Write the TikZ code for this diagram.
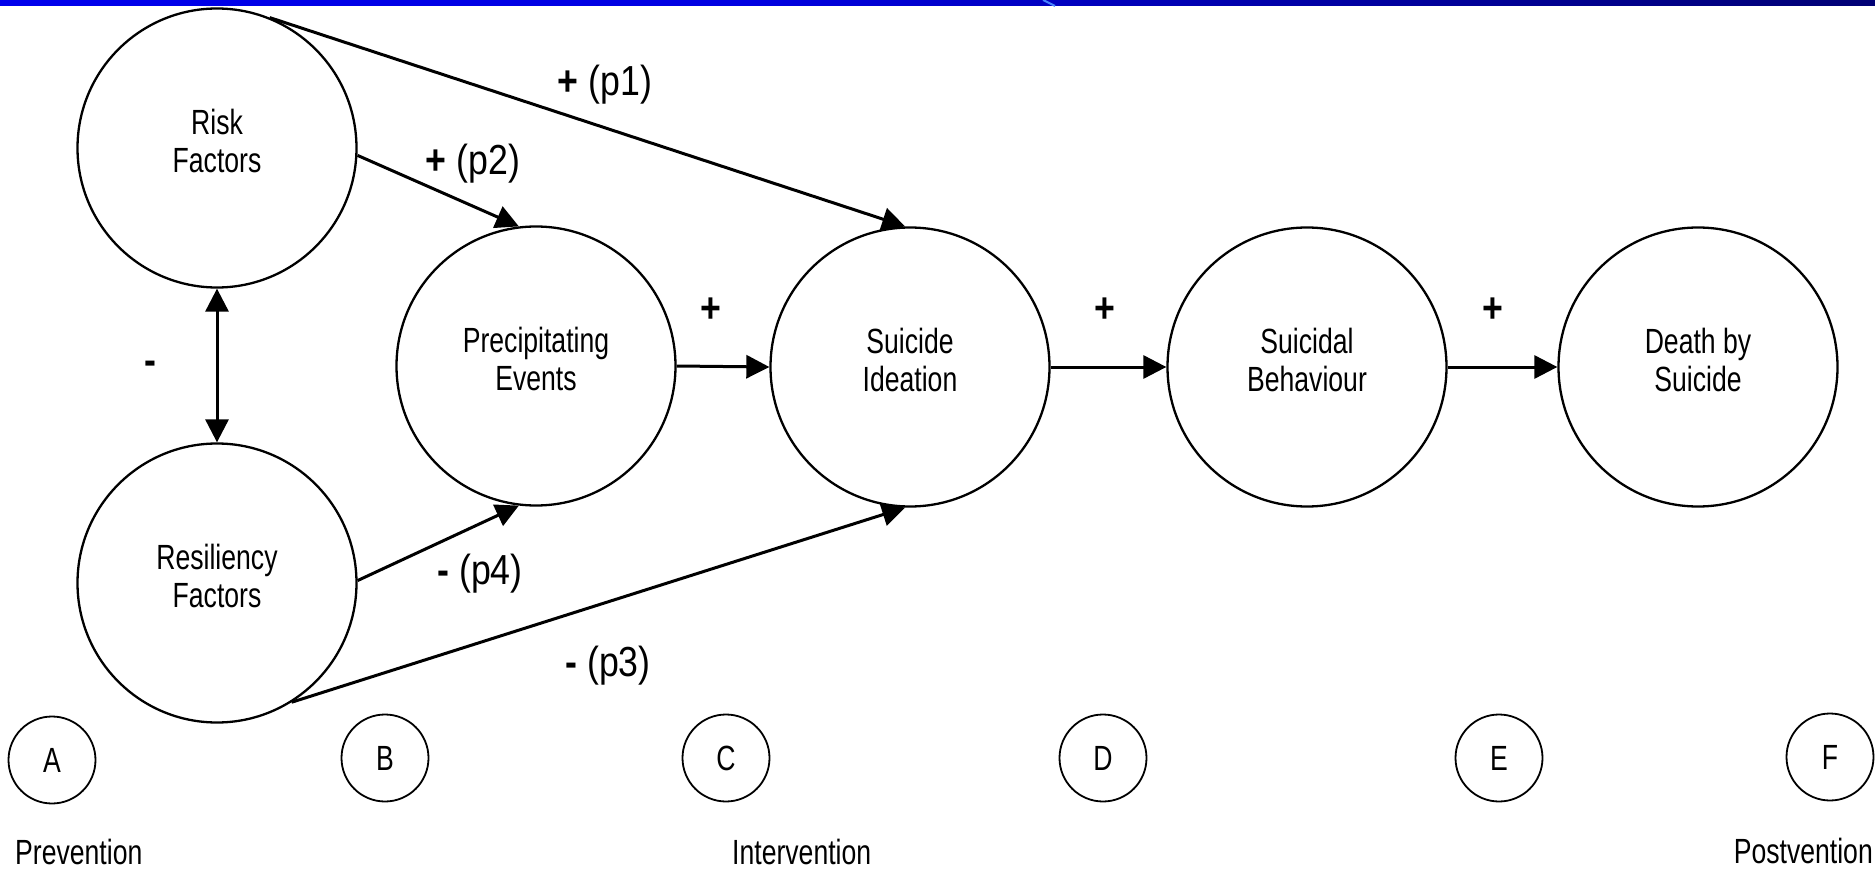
\documentclass[tikz,border=0pt]{standalone}
\usepackage{fontspec}
\setmainfont{Liberation Sans}[FakeStretch=0.76]
\newfontfamily\labfont{Liberation Sans}[FakeStretch=0.85]
\usetikzlibrary{arrows.meta}
\definecolor{barA}{RGB}{0,0,250}
\definecolor{barB}{RGB}{0,0,225}
\definecolor{barC}{RGB}{0,0,165}
\definecolor{barD}{RGB}{0,0,100}
\definecolor{barE}{RGB}{0,0,15}
\definecolor{slash}{RGB}{70,130,255}
\pgfdeclarehorizontalshading{topbar}{100bp}{color(0bp)=(barA); color(45bp)=(barB); color(60bp)=(barC); color(80bp)=(barD); color(100bp)=(barE)}
\begin{document}
\begin{tikzpicture}[x=1pt,y=-1pt,
  bigc/.style={circle, draw, line width=2.3pt, minimum size=279pt, inner sep=0pt},
  smallc/.style={circle, draw, line width=1.8pt, minimum size=87pt, inner sep=0pt, font=\fontsize{35}{38}\selectfont},
  intext/.style={align=center, font=\fontsize{35}{38}\selectfont, inner sep=0pt},
  lab/.style={font=\labfont\fontsize{42}{46}\selectfont, inner sep=0pt},
  bot/.style={font=\fontsize{35}{38}\selectfont, inner sep=0pt},
  arr/.style={line width=3pt, -{Triangle[length=23pt,width=23pt]}},
  dbl/.style={line width=3pt, {Triangle[length=23pt,width=23pt]}-{Triangle[length=23pt,width=23pt]}}]
\useasboundingbox (0,0) rectangle (1875,869);
\fill[white] (0,0) rectangle (1875,869);
\shade[shading=topbar] (0,0) rectangle (1875,6);
\draw[slash, line width=2pt] (1043,0) -- (1055,6);

% big circles
\node[bigc] (risk) at (217,148) {};
\node[bigc] (res) at (217,583) {};
\node[bigc] (prec) at (536,366) {};
\node[bigc] (sui) at (910,367) {};
\node[bigc] (beh) at (1307,367) {};
\node[bigc] (death) at (1698,367) {};

\node[intext] (risktxt) at ([yshift=7.5pt]risk.center) {Risk\\Factors};
\node[intext] (restxt) at ([yshift=7.5pt]res.center) {Resiliency\\Factors};
\node[intext] (prectxt) at ([yshift=7.5pt]prec.center) {Precipitating\\Events};
\node[intext] (suitxt) at ([yshift=7.5pt]sui.center) {Suicide\\Ideation};
\node[intext] (behtxt) at ([yshift=7.5pt]beh.center) {Suicidal\\Behaviour};
\node[intext] (deathtxt) at ([yshift=7.5pt]death.center) {Death by\\Suicide};

% connectors
\draw[arr] (risk.68) -- (sui.92);
\draw[arr] (risk.-3) -- (prec.97);
\draw[arr] (prec.east) -- (sui.west);
\draw[arr] (sui.east) -- (beh.west);
\draw[arr] (beh.east) -- (death.west);
\draw[arr] (res.1) -- (prec.263);
\draw[arr] (res.-58) -- (sui.268);
\draw[dbl] (risk.south) -- (res.north);

% labels
\node[lab] (lp1) at (605,85) {{\bfseries +} (p1)};
\node[lab] (lp2) at (473,164) {{\bfseries +} (p2)};
\node[lab] (lp4) at (480,574) {{\bfseries -} (p4)};
\node[lab] (lp3) at (608,666) {{\bfseries -} (p3)};
\node[lab] (lpa) at (711,310) {\bfseries +};
\node[lab] (lpb) at (1105,310) {\bfseries +};
\node[lab] (lpc) at (1493,310) {\bfseries +};
\node[lab] (lm) at (150,368) {\bfseries -};

% stage circles
\node[smallc] (sa) at (52,760) {A};
\node[smallc] (sb) at (385,758) {B};
\node[smallc] (sc) at (726,758) {C};
\node[smallc] (sd) at (1103,758) {D};
\node[smallc] (se) at (1499,758) {E};
\node[smallc] (sf) at (1830,757) {F};

\node[bot, anchor=base west] (prev) at (15,864) {Prevention};
\node[bot, anchor=base west] (interv) at (732,864) {Intervention};
\node[bot, anchor=base east] (postv) at (1873,863) {Postvention};
\end{tikzpicture}
\end{document}
